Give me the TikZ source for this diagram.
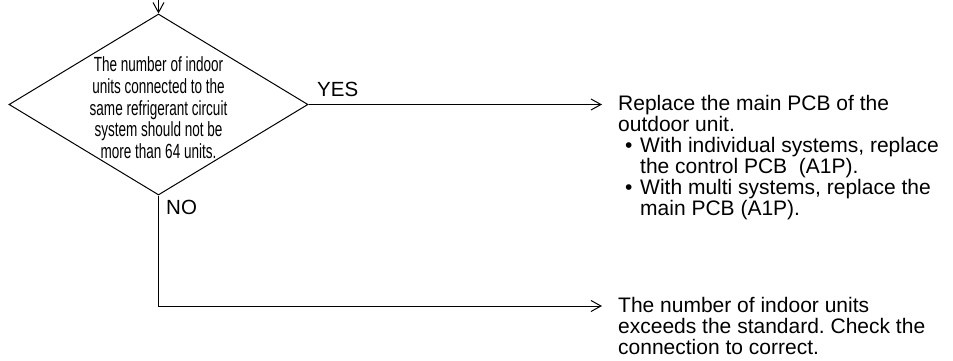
\documentclass[tikz,border=0pt]{standalone}
\usepackage{fontspec}
\setmainfont{Liberation Sans}
\newfontfamily\narrowfont[FakeStretch=0.66]{Liberation Sans}
\usetikzlibrary{shapes.geometric,arrows.meta}
\frenchspacing
\tikzset{
  conn/.style={line width=1pt,-{Straight Barb[length=10pt,width=11pt,line width=1pt]}},
  decbox/.style={diamond,draw,line width=1pt,inner sep=0pt,minimum width=299pt,minimum height=181pt},
  dectext/.style={align=center,inner sep=0pt,font=\narrowfont\fontsize{20.5}{21.7}\selectfont},
  anstext/.style={align=left,inner sep=0pt,font=\fontsize{21}{21}\selectfont},
  lbl/.style={inner sep=0pt,font=\fontsize{20.5}{21}\selectfont}
}
\begin{document}
\begin{tikzpicture}[x=1pt,y=-1pt]
\useasboundingbox (0,0) rectangle (953,361);
\coordinate (start) at (158.5,0);
\node[decbox] (dec) at (158.5,104.5) {};
\node[dectext,anchor=base] (dtxt) at (158.5,158.5) {The number of indoor\\units connected to the\\same refrigerant circuit\\system should not be\\more than 64 units.};
\draw[conn] (start) -- (dec.north);
\coordinate (yesend) at (602,104.5);
\coordinate (noend) at (602,306);
\draw[conn] (dec.east) -- (yesend);
\draw[conn] (dec.south) |- (noend);
\node[lbl,anchor=base west] (yes) at (317,96) {YES};
\node[lbl,anchor=base west] (no) at (166,214) {NO};
\node[anstext,anchor=base west] (ans1) at (618,215) {Replace the main PCB of the\\outdoor unit.\\\hspace*{7pt}\makebox[15pt][l]{•}With individual systems, replace\\\hspace*{22pt}the control PCB\ \ (A1P).\\\hspace*{7pt}\makebox[15pt][l]{•}With multi systems, replace the\\\hspace*{22pt}main PCB (A1P).};
\node[anstext,anchor=base west] (ans2) at (618,354) {The number of indoor units\\exceeds the standard. Check the\\connection to correct.};
\end{tikzpicture}
\end{document}
